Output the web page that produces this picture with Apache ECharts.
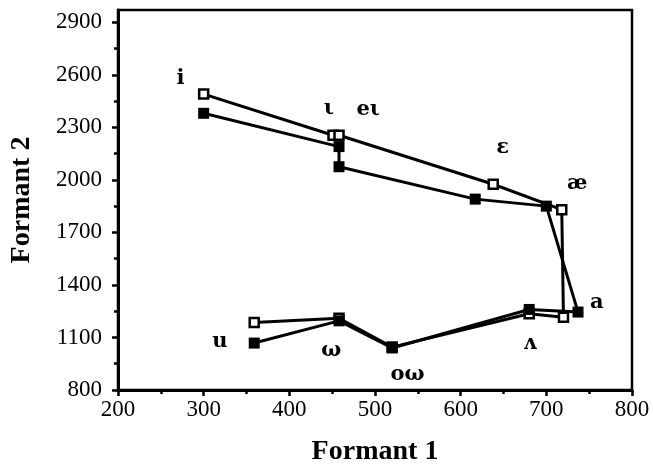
<!DOCTYPE html>
<html>
<head>
<meta charset="utf-8">
<script src="https://cdn.jsdelivr.net/npm/echarts@6/dist/echarts.min.js"></script>
<style>
  html, body { margin: 0; padding: 0; background: #fff; }
  #chart { width: 653px; height: 471px; }
</style>
</head>
<body>
<div id="chart"></div>
<script>
// vowel order along each loop
var vowels = ['i', 'ι', 'eι', 'ε', 'æ', 'a', 'ʌ', 'oω', 'ω', 'u']

// open squares (F1, F2)
var openF1 = [300, 451, 458, 638, 718, 720, 680, 520, 458, 359]
var openF2 = [2490, 2255, 2255, 1975, 1830, 1215, 1235, 1045, 1210, 1185]

// filled squares (F1, F2)
var filledF1 = [300, 458, 458, 617, 700, 737, 680, 520, 458, 359]
var filledF2 = [2380, 2190, 2075, 1890, 1850, 1245, 1260, 1040, 1195, 1068]

// where the vowel names sit
var labelF1 = [273, 446, 492, 649, 736, 759, 681, 538, 449, 319]
var labelF2 = [2581, 2410, 2400, 2187, 1981, 1302, 1068, 886, 1028, 1074]

var yTicks = [800, 1100, 1400, 1700, 2000, 2300, 2600, 2900]
var yMinorTicks = [950, 1250, 1550, 1850, 2150, 2450, 2750]

function pairs(xs, ys) {
  return xs.map(function (x, i) { return [x, ys[i]] })
}

function plain(v) { return String(v) }

var serif = 'Liberation Serif'
var chart = echarts.init(document.getElementById('chart'))

var option = {
  animation: false,
  backgroundColor: '#fff',
  grid: {
    left: 116, right: 21, top: 10, bottom: 81,
    show: true, borderColor: '#000', borderWidth: 2.5
  },
  xAxis: {
    type: 'value', min: 200, max: 800, interval: 100,
    name: 'Formant 1', nameLocation: 'middle', nameGap: 48,
    nameTextStyle: { fontFamily: serif, fontWeight: 'bold', fontSize: 28, color: '#000' },
    axisLine: { lineStyle: { color: '#000', width: 3 } },
    axisTick: { show: true, inside: false, length: 6, lineStyle: { color: '#000', width: 2.5 } },
    minorTick: { show: true, splitNumber: 2, length: 4, lineStyle: { color: '#000', width: 2.5 } },
    axisLabel: { margin: 8, formatter: plain, fontFamily: serif, fontSize: 23, color: '#000' },
    splitLine: { show: false }
  },
  yAxis: [{
    type: 'value', min: 800, max: 2970, position: 'left',
    name: 'Formant 2', nameLocation: 'middle', nameGap: 82, nameRotate: 90,
    nameTextStyle: { fontFamily: serif, fontWeight: 'bold', fontSize: 28, color: '#000' },
    axisLine: { lineStyle: { color: '#000', width: 3 } },
    axisTick: { show: true, length: 6, customValues: yTicks, lineStyle: { color: '#000', width: 2.5 } },
    axisLabel: { margin: 16, customValues: yTicks, formatter: plain, fontFamily: serif, fontSize: 23, color: '#000' },
    splitLine: { show: false }
  }, {
    type: 'value', min: 800, max: 2970, position: 'left', offset: 0,
    axisLine: { show: false },
    axisTick: { show: true, length: 4, customValues: yMinorTicks, lineStyle: { color: '#000', width: 2.5 } },
    axisLabel: { show: false },
    splitLine: { show: false }
  }],
  series: [{
    type: 'line',
    data: pairs(openF1, openF2),
    symbol: 'rect', symbolSize: 9,
    lineStyle: { color: '#000', width: 3 },
    itemStyle: { color: '#fff', borderColor: '#000', borderWidth: 2.5 },
    z: 2
  }, {
    type: 'line',
    data: pairs(filledF1, filledF2),
    symbol: 'rect', symbolSize: 11,
    lineStyle: { color: '#000', width: 3 },
    itemStyle: { color: '#000', borderColor: '#000', borderWidth: 0 },
    z: 3
  }, {
    type: 'scatter',
    data: labelF1.map(function (x, i) { return { name: vowels[i], value: [x, labelF2[i]] } }),
    symbolSize: 0,
    itemStyle: { opacity: 1 },
    label: {
      show: true, position: 'inside', formatter: '{b}',
      fontFamily: 'DejaVu Serif', fontWeight: 'bold', fontSize: 21,
      color: '#000', textBorderWidth: 0, opacity: 1
    },
    z: 4
  }]
}

chart.setOption(option)
</script>
</body>
</html>
